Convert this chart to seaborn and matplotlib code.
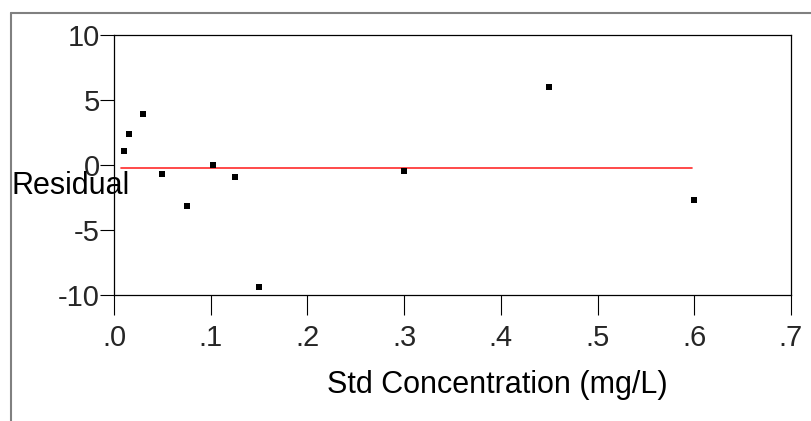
import matplotlib
matplotlib.use("Agg")
import matplotlib.pyplot as plt
from matplotlib.lines import Line2D
import seaborn as sns
import pandas as pd

# Data
std_conc = [0.01, 0.016, 0.03, 0.05, 0.075, 0.102, 0.125, 0.15, 0.30, 0.45, 0.60]
residual = [1.08, 2.4, 3.95, -0.69, -3.15, 0.0, -0.9, -9.36, -0.46, 5.98, -2.72]
fit_x = [0.0075, 0.598]
fit_y = [-0.25, -0.25]
x_ticks = [0.0, 0.1, 0.2, 0.3, 0.4, 0.5, 0.6, 0.7]
x_tick_labels = [".0", ".1", ".2", ".3", ".4", ".5", ".6", ".7"]
y_ticks = [-10, -5, 0, 5, 10]
y_tick_labels = ["-10", "-5", "0", "5", "10"]

sns.set_style("white")
plt.rcParams["font.family"] = ["Liberation Sans", "DejaVu Sans"]

W, H = 811, 421
fig = plt.figure(figsize=(W / 100, H / 100), dpi=100)
fig.patch.set_facecolor("white")

# outer frame (top and left)
fig.add_artist(Line2D([11 / W, 1.0], [1 - 13 / H, 1 - 13 / H], color="#808080", lw=1.5,
                      transform=fig.transFigure))
fig.add_artist(Line2D([11 / W, 11 / W], [0, 1 - 13 / H], color="#808080", lw=1.5,
                      transform=fig.transFigure))

left, right, top, bottom = 114, 791, 35, 295
ax = fig.add_axes([left / W, 1 - bottom / H, (right - left) / W, (bottom - top) / H])

df = pd.DataFrame({"x": std_conc, "y": residual})
fit = pd.DataFrame({"x": fit_x, "y": fit_y})
sns.lineplot(data=fit, x="x", y="y", ax=ax, color="#ff2a2a", lw=1.2, zorder=2)
sns.scatterplot(data=df, x="x", y="y", ax=ax, marker="s", s=20, color="black",
                linewidth=0, zorder=3)

ax.set_xlim(0, 0.7)
ax.set_ylim(-10, 10)
ax.set_xticks(x_ticks)
ax.set_xticklabels(x_tick_labels)
ax.set_yticks(y_ticks)
ax.set_yticklabels(y_tick_labels)
ax.tick_params(axis="x", direction="out", length=14.4, width=0.8, color="black",
               labelsize=21, pad=6.5, bottom=True)
ax.tick_params(axis="y", direction="out", length=10, width=0.8, color="black",
               labelsize=21, pad=0.3, left=True)
for sp in ax.spines.values():
    sp.set_visible(True)
    sp.set_color("black")
    sp.set_linewidth(0.9)
ax.set_xlabel("")
ax.set_ylabel("")

fig.text(11 / W, 1 - 186 / H, "Residual", ha="left", va="center", fontsize=22,
         color="black", zorder=0)
fig.text(497 / W, 1 - 385 / H, "Std Concentration (mg/L)", ha="center", va="center",
         fontsize=22, color="black")

fig.savefig("out.png", dpi=100)
